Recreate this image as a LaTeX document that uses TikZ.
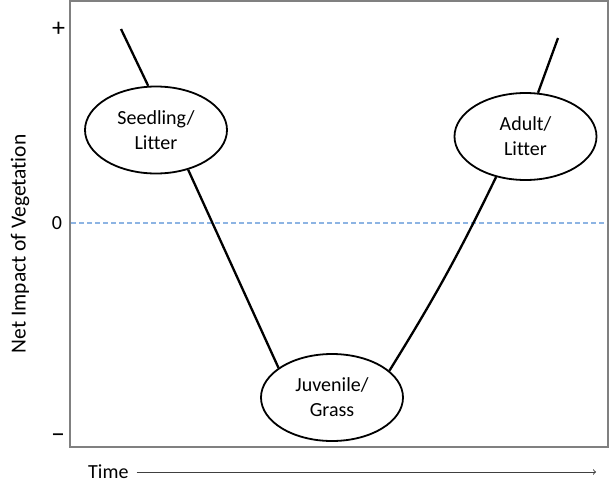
\documentclass[tikz,border=0pt]{standalone}
\usepackage{fontspec}
\setmainfont[Ligatures=NoCommon]{Carlito}
\usetikzlibrary{shapes.geometric}
\definecolor{zeroblue}{RGB}{141,180,227}
\begin{document}
\begin{tikzpicture}[x=1pt,y=-1pt,every node/.style={font=\fontsize{20}{25}\selectfont}]
        \tikzset{stage/.style = {ellipse,draw,line width=1.8pt,fill=white,align=center,
                 minimum width=142pt,minimum height=87pt,inner sep=0pt},
                 curve/.style = {line width=2.3pt},
                 tick/.style = {inner sep=0pt,font=\fontsize{26}{26}\selectfont}}
        \useasboundingbox (0,0) rectangle (610,498);
        \draw[gray,line width=2pt] (70,1) rectangle (608,447);
        \draw[zeroblue,line width=1.2pt,dash pattern=on 5pt off 3pt] (71,223) -- (607,223);
        
        \node[tick] (plus) at (58.5,29.5) {+};
        \node[inner sep=0pt] (zero) at (57,223) {0};
        \node[tick,font=\fontsize{28}{28}\selectfont] (minus) at (58,438) {–};
        \node[rotate=90,font=\fontsize{21.5}{25}\selectfont] (ylab) at (20,244) {Net Impact of Vegetation};
        \node[anchor=west,inner sep=0pt] (time) at (88,472) {Time};
        \coordinate (tend) at (596,472);
        \draw[->,>=to,line width=1pt,black!75] (time.east) ++(8,0) coordinate (tstart) -- (tend);
        
        \coordinate (ltop) at (121,29);
        \coordinate (rtop) at (558,38);
        \node[stage] (seed) at (156,130) {Seedling/\\Litter};
        \node[stage] (juv) at (332,397.5) {Juvenile/\\Grass};
        \node[stage] (adult) at (525.5,136.5) {Adult/\\Litter};
        
        \draw[curve] (ltop) -- (seed.100);
        \draw[curve] (seed.-51) -- (juv.151);
        \draw[curve] (juv.25) to[bend right=3] (adult.234);
        \draw[curve] (adult.74) -- (rtop);
\end{tikzpicture}
\end{document}
